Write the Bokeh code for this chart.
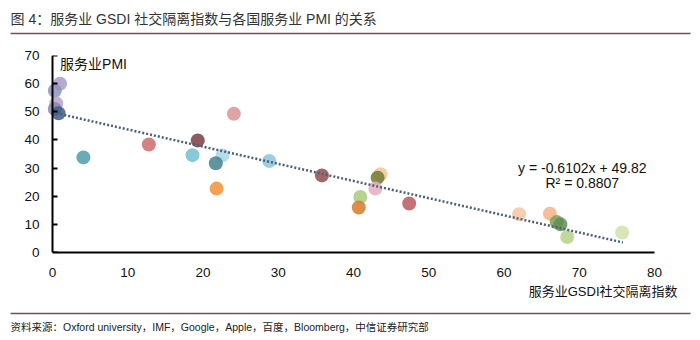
from bokeh.plotting import figure
from bokeh.layouts import column
from bokeh.models import Range1d, Label, BoxAnnotation, ColumnDataSource, FixedTicker, LinearAxis
from bokeh.embed import file_html
from bokeh.resources import INLINE

# ---- data ----
gsdi = [1.0, 0.3, 0.5, 0.3, 0.8,
        4.1, 12.8, 19.3, 18.6, 22.6, 21.7, 21.8, 28.8, 24.1,
        35.8, 43.6, 43.2, 42.9, 40.9, 40.7, 47.4,
        62.0, 66.1, 67.0, 67.5, 68.4, 75.7]
pmi = [60.0, 57.5, 53.0, 51.0, 49.5,
       33.8, 38.4, 39.8, 34.6, 34.5, 31.7, 22.7, 32.5, 49.3,
       27.4, 27.8, 26.6, 22.7, 19.7, 16.0, 17.4,
       13.6, 13.8, 10.8, 10.0, 5.5, 7.1]
point_colors = ["#a99bc9", "#8f95b8", "#b3a7c9", "#8c86ad", "#3f5a8a",
                "#4f9ea8", "#cd6b6b", "#7a3d44", "#72c0cf", "#a9d6e6", "#44828c", "#f39033", "#8cc4da", "#d99595",
                "#8e4e4e", "#f6c48e", "#6e7a30", "#e6adbd", "#a9cd7c", "#d67a2c", "#b85a5e",
                "#f6c6a4", "#f6b088", "#7ca04f", "#5f8e58", "#b6d18c", "#d0e1aa"]
trend_slope = -0.6102
trend_intercept = 49.82
r_squared = 0.8807
trend_x = [0, 75.8]
trend_y = [trend_intercept + trend_slope * v for v in trend_x]

x_ticks = [0, 10, 20, 30, 40, 50, 60, 70, 80]
y_ticks = [0, 10, 20, 30, 40, 50, 60, 70]

title_text = "图 4：服务业 GSDI 社交隔离指数与各国服务业 PMI 的关系"
source_text = "资料来源：Oxford university，IMF，Google，Apple，百度，Bloomberg，中信证券研究部"
x_label = "服务业GSDI社交隔离指数"
y_label = "服务业PMI"

MIX = "Liberation Sans, Noto Sans CJK SC"
LAT = "Liberation Sans"
RULE = "#6d5157"


def blank(h):
    f = figure(width=700, height=h, output_backend="svg", toolbar_location=None,
               x_range=Range1d(0, 700), y_range=Range1d(h, 0),
               x_axis_type=None, y_axis_type=None,
               min_border_left=0, min_border_right=0, min_border_top=0, min_border_bottom=0)
    f.frame_align = False
    f.outline_line_color = None
    f.xgrid.visible = False
    f.ygrid.visible = False
    f.background_fill_color = "white"
    f.border_fill_color = "white"
    return f


# ---- header ----
head = blank(40)
head.add_layout(Label(x=10, y=18, text=title_text, text_align="left", text_baseline="middle",
                      text_font=MIX, text_font_size="14px", text_color="#333333"))
head.add_layout(BoxAnnotation(left=10, right=690, top=32.3, bottom=33.8,
                              fill_color=RULE, fill_alpha=1, line_color=None))

# ---- main chart ----
p = figure(width=700, height=240, output_backend="svg", toolbar_location=None,
           x_range=Range1d(-1.6, 80), y_range=Range1d(0, 70),
           min_border_left=40, min_border_right=46, min_border_top=15, min_border_bottom=28)
p.frame_align = False
p.outline_line_color = None
p.xgrid.visible = False
p.ygrid.visible = False
p.background_fill_color = "white"
p.border_fill_color = "white"

# x axis
xa = p.xaxis[0]
xa.ticker = FixedTicker(ticks=x_ticks)
xa.bounds = (0, 80)
xa.axis_line_color = "black"
xa.axis_line_width = 2
xa.major_tick_line_color = None
xa.minor_tick_line_color = None
xa.major_label_standoff = 9
xa.major_label_text_font = LAT
xa.major_label_text_font_size = "13.5px"
xa.major_label_text_color = "#111111"

# y axis labels (at the frame edge)
ya = p.yaxis[0]
ya.ticker = FixedTicker(ticks=y_ticks)
ya.axis_line_color = None
ya.major_tick_line_color = None
ya.minor_tick_line_color = None
ya.major_tick_in = 0
ya.major_tick_out = 0
ya.major_label_standoff = 1
ya.major_label_text_font = LAT
ya.major_label_text_font_size = "13.5px"
ya.major_label_text_color = "#111111"

# y axis line and ticks at x = 0 (labels not painted)
y_line = LinearAxis(ticker=FixedTicker(ticks=y_ticks), fixed_location=0,
                    axis_line_color="black", axis_line_width=2,
                    major_tick_line_color="black", major_tick_line_width=2,
                    major_tick_in=5, major_tick_out=0, minor_tick_line_color=None,
                    major_label_text_color=None, major_label_text_font_size="8px",
                    major_label_standoff=0)
p.add_layout(y_line, "left")

src = ColumnDataSource(dict(x=gsdi, y=pmi, c=point_colors))
p.scatter("x", "y", source=src, size=14, fill_color="c", fill_alpha=0.85, line_color=None)

p.line(trend_x, trend_y, line_color="#4a6176", line_width=2.5, line_dash="2 2")

p.add_layout(Label(x=70.4, y=29.9, text="y = %.4fx + %.2f" % (trend_slope, trend_intercept),
                   text_align="center", text_baseline="middle",
                   text_font=LAT, text_font_size="14px", text_color="#111111"))
p.add_layout(Label(x=70.4, y=24.6, text="R² = %.4f" % r_squared,
                   text_align="center", text_baseline="middle",
                   text_font=LAT, text_font_size="14px", text_color="#111111"))
p.add_layout(Label(x=1.0, y=67.0, text=y_label, text_align="left", text_baseline="middle",
                   text_font=MIX, text_font_size="14px", text_color="#111111"))

# ---- footer ----
foot = blank(60)
foot.add_layout(Label(x=677, y=11, text=x_label, text_align="right", text_baseline="middle",
                      text_font=MIX, text_font_size="13px", text_color="#111111"))
foot.add_layout(BoxAnnotation(left=10, right=690, top=32.3, bottom=33.8,
                              fill_color=RULE, fill_alpha=1, line_color=None))
foot.add_layout(Label(x=10, y=46, text=source_text, text_align="left", text_baseline="middle",
                      text_font=MIX, text_font_size="10.5px", text_color="#222222"))

layout = column(head, p, foot, spacing=0)
open("out.html", "w").write(file_html(layout, INLINE))
